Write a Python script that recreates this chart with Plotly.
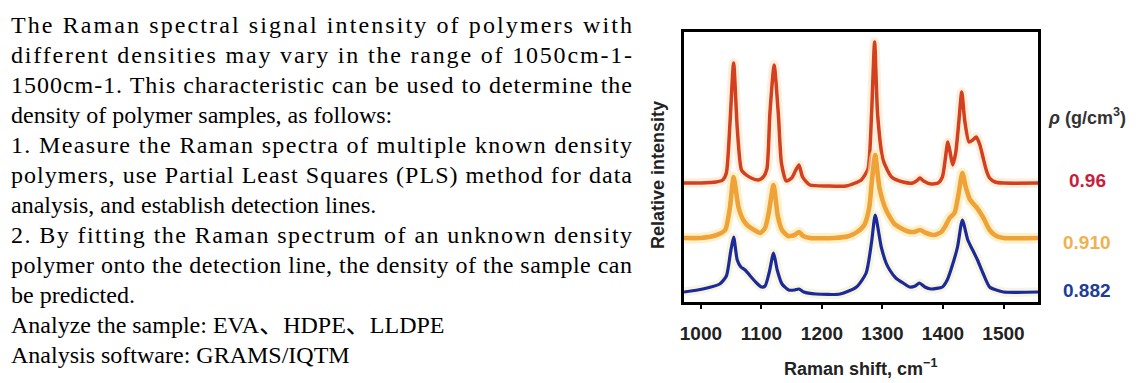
import json
import plotly.graph_objects as go

# ---------------- data ----------------
red_x = [972, 1000, 1025, 1036, 1042, 1048, 1054, 1060, 1067, 1075, 1083, 1095, 1103, 1109, 1114, 1121, 1128, 1133, 1141, 1150,
         1156, 1162, 1168, 1180, 1210, 1240, 1255, 1265, 1276, 1282, 1287, 1292, 1301, 1315, 1334, 1350, 1356, 1362, 1368, 1380,
         1392, 1399, 1404, 1408, 1412, 1416, 1421, 1426, 1431, 1436, 1443, 1449, 1455, 1461, 1466, 1472, 1477, 1486, 1500, 1557]
red_y = [0, 0, 1, 3, 10, 60, 120, 55, 13, 8, 5, 3, 6, 14, 70, 118, 68, 20, 2, 5,
         12, 18, 6, -2, -3, -3, 0, 3, 14, 70, 141, 68, 23, 6, 1, 0, 2, 5, 2, -1,
         0, 6, 25, 41, 30, 18, 30, 60, 91, 62, 41, 43, 46, 38, 26, 12, 5, 1, 0, 0]

orange_x = [972, 1000, 1026, 1040, 1048, 1054, 1062, 1070, 1078, 1088, 1098, 1106, 1112, 1120, 1127, 1134, 1144, 1155, 1162, 1169,
            1180, 1220, 1245, 1258, 1270, 1278, 1283, 1288, 1295, 1306, 1320, 1340, 1352, 1362, 1372, 1385, 1397, 1404, 1411, 1419,
            1426, 1432, 1438, 1445, 1455, 1466, 1477, 1488, 1500, 1557]
orange_y = [0, 0, 3, 8, 31, 61, 31, 18, 12, 8, 5, 10, 25, 53, 22, 8, 2, 3, 6, 2,
            0, 0, 2, 6, 13, 30, 60, 83, 50, 28, 14, 7, 6, 8, 5, 3, 6, 12, 20, 25,
            45, 65, 50, 38, 31, 21, 8, 2, 0, 0]

blue_x = [972, 1003, 1031, 1042, 1049, 1054, 1060, 1066, 1073, 1083, 1092, 1100, 1106, 1113, 1120, 1126, 1134, 1145, 1155, 1162,
          1170, 1190, 1230, 1257, 1273, 1282, 1288, 1298, 1306, 1312, 1322, 1334, 1345, 1354, 1361, 1370, 1380, 1399, 1407, 1413,
          1424, 1432, 1441, 1449, 1457, 1466, 1477, 1488, 1500, 1557]
blue_y = [0, 3, 8, 16, 40, 55, 32, 25, 22, 15, 9, 5, 6, 20, 39, 22, 8, 2, 2, 3,
          0, -2, -2, 5, 19, 50, 77, 45, 29, 22, 14, 9, 5, 6, 9, 5, 3, 5, 12, 22,
          45, 72, 52, 42, 32, 19, 5, 2, 0, 0]

series_offsets = [119, 64, 10]
density_labels = ["0.96", "0.910", "0.882"]
x_ticks = [1000, 1100, 1200, 1300, 1400, 1500]

text_lines = [
    "The Raman spectral signal intensity of polymers with",
    "different densities may vary in the range of 1050cm-1-",
    "1500cm-1. This characteristic can be used to determine the",
    "density of polymer samples, as follows:",
    "1. Measure the Raman spectra of multiple known density",
    "polymers, use Partial Least Squares (PLS) method for data",
    "analysis, and establish detection lines.",
    "2. By fitting the Raman spectrum of an unknown density",
    "polymer onto the detection line, the density of the sample can",
    "be predicted.",
    "Analyze the sample: EVA、HDPE、LLDPE",
    "Analysis software: GRAMS/IQTM",
]
justified = [True, True, True, False, True, True, False, True, True, False, False, False]

# ---------------- layout geometry ----------------
W, H = 1140, 383
L, R, T, B = 684, 1038, 32, 302   # plot box in pixels
pw, ph = R - L, B - T


def px_x(px):
    return (px - L) / pw


def px_y(py):
    return (B - py) / ph


fig = go.Figure()

series = [
    (red_x, red_y, series_offsets[0], "#D2401F", 3.5, "rgba(252,226,190,0.55)"),
    (orange_x, orange_y, series_offsets[1], "#EFA238", 4.6, "rgba(252,232,170,0.6)"),
    (blue_x, blue_y, series_offsets[2], "#1B2A98", 3.2, "rgba(240,236,200,0.55)"),
]
for xs, ys, off, col, lw, halo in series:
    yy = [v + off for v in ys]
    fig.add_trace(go.Scatter(x=xs, y=yy, mode="lines", line=dict(color=halo, width=lw + 6, shape="spline", smoothing=0.6),
                             hoverinfo="skip", showlegend=False))
    fig.add_trace(go.Scatter(x=xs, y=yy, mode="lines", line=dict(color=col, width=lw, shape="spline", smoothing=0.6),
                             showlegend=False))

ann = []
# left paragraph
for i, line in enumerate(text_lines):
    yc = 25 + 30 * i
    ann.append(dict(text=line, xref="paper", yref="paper", x=px_x(9), y=px_y(yc), xanchor="left", yanchor="middle",
                    align="left", showarrow=False,
                    font=dict(family="Liberation Serif, Times New Roman, Noto Sans CJK SC, serif", size=24, color="#000")))

chart_font = "Liberation Sans, Arial, sans-serif"
ann.append(dict(text="Relative intensity", xref="paper", yref="paper", x=px_x(658), y=px_y(175), textangle=-90,
                xanchor="center", yanchor="middle", showarrow=False,
                font=dict(family=chart_font, size=18, color="#222", weight="bold")))
ann.append(dict(text="Raman shift, cm<sup>−1</sup>", xref="paper", yref="paper", x=px_x(860), y=px_y(367),
                xanchor="center", yanchor="middle", showarrow=False,
                font=dict(family=chart_font, size=18, color="#222", weight="bold")))
ann.append(dict(text="<i>ρ</i> (g/cm<sup>3</sup>)", xref="paper", yref="paper", x=px_x(1087), y=px_y(117),
                xanchor="center", yanchor="middle", showarrow=False,
                font=dict(family=chart_font, size=18, color="#333", weight="bold")))
label_cols = ["#C8203C", "#EFB24E", "#203C98"]
label_ys = [180, 242, 290]
for lab, col, yy in zip(density_labels, label_cols, label_ys):
    ann.append(dict(text=lab, xref="paper", yref="paper", x=px_x(1087), y=px_y(yy),
                    xanchor="center", yanchor="middle", showarrow=False,
                    font=dict(family=chart_font, size=19, color=col, weight="bold")))

fig.update_layout(
    width=W, height=H,
    margin=dict(l=L, r=W - R, t=T, b=H - B, pad=0),
    paper_bgcolor="white", plot_bgcolor="white",
    annotations=ann,
    showlegend=False,
    xaxis=dict(range=[972, 1557], tickvals=x_ticks, ticktext=[str(v) for v in x_ticks],
               ticks="outside", ticklen=4, tickwidth=2, tickcolor="#000",
               showline=True, linecolor="#000", linewidth=2.5, mirror=True,
               showgrid=False, zeroline=False, ticklabelstandoff=8,
               tickfont=dict(family=chart_font, size=19, color="#222", weight="bold")),
    yaxis=dict(range=[0, 270], showticklabels=False, ticks="",
               showline=True, linecolor="#000", linewidth=2.5, mirror=True,
               showgrid=False, zeroline=False),
)

just_js = [[text_lines[i], 621] for i in range(len(text_lines)) if justified[i]]
post = """
(function(){
  document.body.style.margin = '0';
  document.body.style.overflow = 'hidden';
  var gd = document.getElementById('{plot_id}');
  var targets = %s;
  function apply(){
    var els = gd.querySelectorAll('text.annotation-text');
    els.forEach(function(el){
      targets.forEach(function(t){
        if (el.textContent === t[0]) {
          el.style.letterSpacing = '0px';
          var w = el.getComputedTextLength();
          var n = el.textContent.length;
          var ls = (t[1] - w) / (n - 1);
          el.style.letterSpacing = ls + 'px';
        }
      });
    });
  }
  apply();
  if (gd.on) gd.on('plotly_afterplot', apply);
})();
""" % json.dumps(just_js, ensure_ascii=False)

fig.write_html("out.html", post_script=post, config={"responsive": False, "displayModeBar": False})
